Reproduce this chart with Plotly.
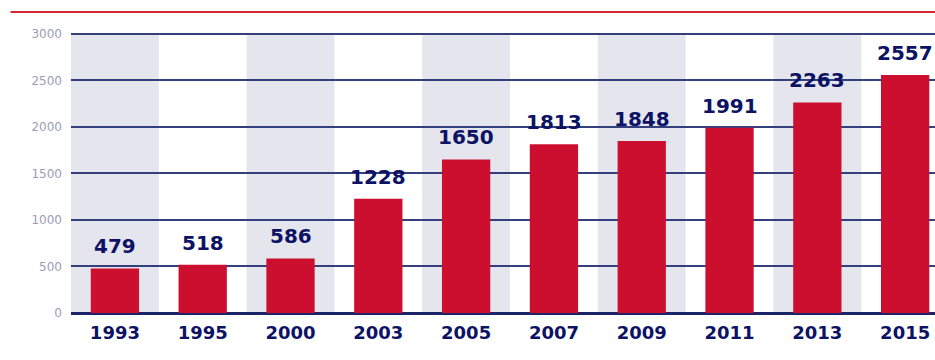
import plotly.graph_objects as go

years = ["1993", "1995", "2000", "2003", "2005", "2007", "2009", "2011", "2013", "2015"]
values = [479, 518, 586, 1228, 1650, 1813, 1848, 1991, 2263, 2557]
y_ticks = [0, 500, 1000, 1500, 2000, 2500, 3000]

BAR = "#cc0e2f"
NAVY = "#0c1264"
GRID = "#34407e"
BAND = "#e5e5ee"
TICK_GRAY = "#9c9cb8"

fig = go.Figure()
fig.add_trace(go.Bar(
    x=list(range(len(years))), y=values,
    marker=dict(color=BAR, line=dict(width=0)),
    width=0.55, hoverinfo="skip",
))

shapes = []
for i in range(0, len(years), 2):
    shapes.append(dict(type="rect", xref="x", yref="y", x0=i - 0.5, x1=i + 0.5,
                       y0=0, y1=3000, fillcolor=BAND, line=dict(width=0), layer="below"))
# top red rule
shapes.append(dict(type="line", xref="paper", yref="paper", x0=-0.07, x1=1.0,
                   y0=1.067, y1=1.067, line=dict(color="#d62631", width=2)))

annotations = []
for i, v in enumerate(values):
    annotations.append(dict(x=i, y=v, xref="x", yref="y", text=str(v), showarrow=False,
                            yanchor="bottom", yshift=8,
                            font=dict(family="DejaVu Sans", size=20, color=NAVY, weight="bold")))

fig.update_layout(
    width=935, height=360,
    margin=dict(l=71, r=0, t=31, b=47),
    paper_bgcolor="white", plot_bgcolor="white",
    showlegend=False,
    shapes=shapes, annotations=annotations,
    xaxis=dict(
        range=[-0.5, 9.34], tickmode="array", tickvals=list(range(len(years))), ticktext=years,
        showgrid=False, zeroline=False, showline=False, ticks="",
        ticklabelstandoff=7,
        tickfont=dict(family="DejaVu Sans", size=18, color=NAVY, weight="bold"),
        fixedrange=True,
    ),
    yaxis=dict(
        range=[0, 3030], tickmode="array", tickvals=y_ticks,
        showgrid=True, gridcolor=GRID, gridwidth=1.5,
        zeroline=True, zerolinecolor="#1c2468", zerolinewidth=2.5,
        showline=False, ticks="", ticklabelstandoff=8,
        tickfont=dict(family="DejaVu Sans", size=12, color=TICK_GRAY),
        fixedrange=True,
    ),
)

fig.write_html("out.html")
